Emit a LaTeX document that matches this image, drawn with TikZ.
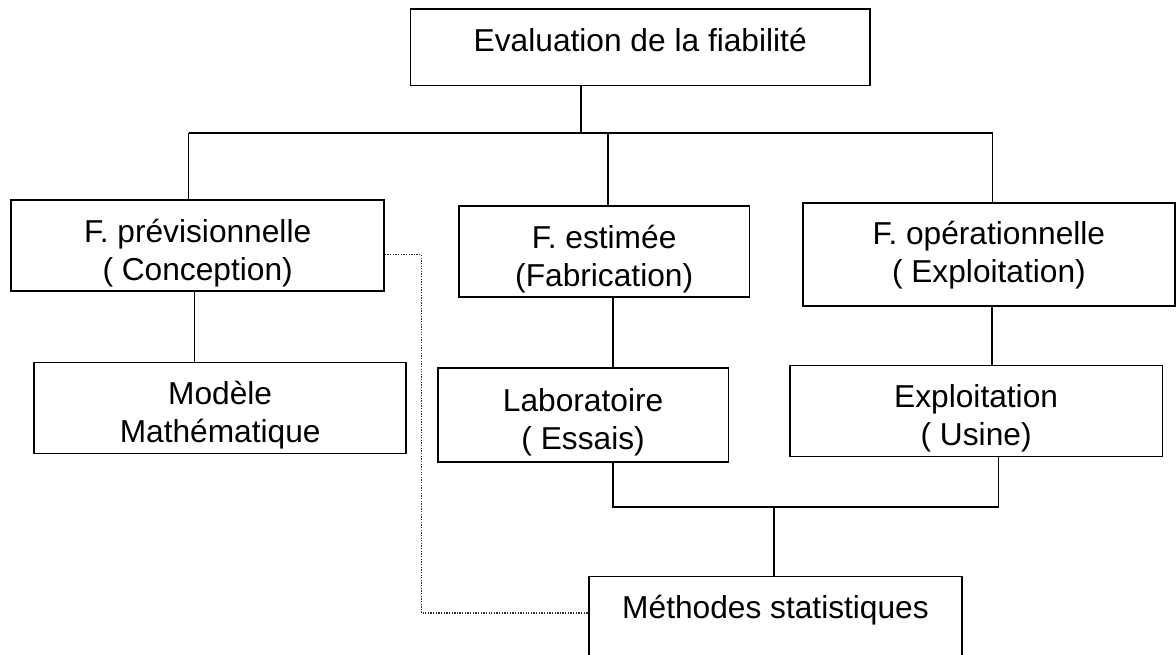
\documentclass[tikz,border=0pt]{standalone}
\usepackage{fontspec}
\setmainfont{Liberation Sans}
\usepackage{tikz}
\usetikzlibrary{positioning, calc}
\newcommand{\upgap}{\rule{0pt}{14.2pt}}
\tikzset{
  blk/.style={draw, line width=0.6pt, align=center, font=\fontsize{12}{14.4}\selectfont,
    minimum height=1.21cm, minimum width=4.96cm, inner sep=0pt},
  link/.style={line width=0.6pt},
  dotlink/.style={dash pattern=on 0.5pt off 0.5pt, line width=0.55pt, black!80},
}

\begin{document}
\begin{tikzpicture}
    \useasboundingbox (0,0) rectangle (15.65,-8.71);
    \clip (0,0) rectangle (15.65,-8.71);
    % boxes
    \node[blk, minimum width=6.11cm, minimum height=1.02cm, text depth=6pt] (eval) at (8.52,-0.63) {Evaluation de la fiabilité};
    \node[blk] (fprev) at (2.63,-3.27) {\upgap F. prévisionnelle\\( Conception)};
    \node[blk, minimum width=3.87cm] (fest) at (8.04,-3.35) {\upgap F. estimée\\(Fabrication)};
    \node[blk, minimum width=4.95cm, minimum height=1.37cm] (fop) at (13.16,-3.39) {F. opérationnelle\\( Exploitation)};
    \node[blk, minimum width=4.95cm] (modele) at (2.93,-5.43) {\upgap Modèle\\Mathématique};
    \node[blk, minimum width=3.87cm, minimum height=1.25cm] (labo) at (7.76,-5.52) {\upgap Laboratoire\\( Essais)};
    \node[blk] (exploit) at (12.99,-5.47) {\upgap Exploitation\\( Usine)};
    \node[blk, minimum height=1.26cm, text depth=12.5pt] (methodes) at (10.32,-8.30) {Méthodes statistiques};
    % top bus
    \coordinate (bus1) at (7.73,-1.77);
    \coordinate (bus1L) at (2.51,-1.77);
    \coordinate (bus1M) at (8.09,-1.77);
    \coordinate (bus1R) at (13.21,-1.77);
    \draw[link] (eval.south -| bus1) -- (bus1);
    \draw[link] (bus1L) -- (bus1R);
    \draw[link] (bus1L) -- (bus1L |- fprev.north);
    \draw[link] (bus1M) -- (bus1M |- fest.north);
    \draw[link] (bus1R) -- (bus1R |- fop.north);
    % second level
    \coordinate (c1) at (2.59,-4.5);
    \coordinate (c2) at (8.16,-4.5);
    \coordinate (c3) at (13.20,-4.5);
    \draw[link] (fprev.south -| c1) -- (modele.north -| c1);
    \draw[link] (fest.south -| c2) -- (labo.north -| c2);
    \draw[link] (fop.south -| c3) -- (exploit.north -| c3);
    % bottom bus
    \coordinate (bus2L) at (8.16,-6.75);
    \coordinate (bus2) at (10.30,-6.75);
    \coordinate (bus2R) at (13.29,-6.75);
    \draw[link] (labo.south -| bus2L) -- (bus2L) -- (bus2R) -- (exploit.south -| bus2R);
    \draw[link] (bus2) -- (methodes.north -| bus2);
    % dotted link
    \coordinate (dotT) at (5.61,-3.39);
    \coordinate (dotB) at (5.61,-8.16);
    \draw[dotlink] (fprev.east |- dotT) -- (dotT) -- (dotB) -- (methodes.west |- dotB);
\end{tikzpicture}
\end{document}
